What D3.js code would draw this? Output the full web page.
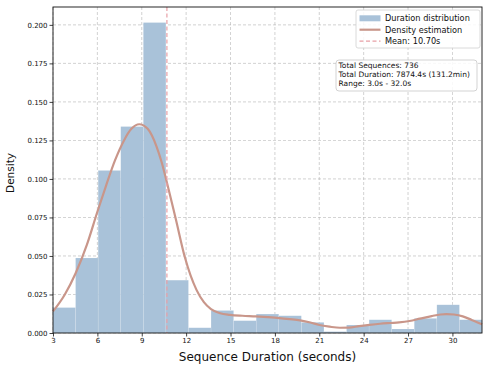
<!DOCTYPE html>
<html>
<head>
<meta charset="utf-8">
<script src="https://cdn.jsdelivr.net/npm/d3@7"></script>
<style>
  body { margin: 0; background: #fff; }
  text { font-family: "DejaVu Sans", sans-serif; fill: #111; }
</style>
</head>
<body>
<div id="chart"></div>
<script>
// histogram: 19 bins between 3 and 32 s (density values)
const binStart = 3, binEnd = 32, binCount = 19;
const binDensity = [0.0165, 0.0487, 0.1055, 0.1340, 0.2015, 0.0343, 0.0034, 0.0146, 0.0080, 0.0123,
                    0.0112, 0.0069, 0.0009, 0.0052, 0.0086, 0.0026, 0.0095, 0.0183, 0.0086];
// kde curve
const kdeX = [3, 3.8, 4.53, 5.3, 6, 6.6, 7.19, 7.8, 8.3, 8.83, 9.4, 10.0, 10.34, 10.64, 11.3, 11.92, 12.7, 13.2, 13.68,
              14.3, 14.96, 15.8, 16.7, 17.5, 18.3, 19.0, 19.7, 20.4, 21.0, 21.7, 22.4, 23.0, 23.7, 24.4, 25.1, 25.8,
              26.4, 27.1, 27.8, 28.6, 29.2, 29.6, 30.1, 30.7, 31.3, 32];
const kdeY = [0.0140, 0.0250, 0.0388, 0.0575, 0.0787, 0.0960, 0.1120, 0.1250, 0.1325, 0.1355, 0.1325, 0.1210, 0.1110,
              0.1000, 0.0740, 0.0490, 0.0280, 0.0200, 0.0155, 0.0128, 0.0118, 0.0112, 0.0108, 0.0103, 0.0097, 0.0090,
              0.0082, 0.0068, 0.0052, 0.0041, 0.0034, 0.0035, 0.0045, 0.0053, 0.0060, 0.0065, 0.0069, 0.0078, 0.0093,
              0.0110, 0.0120, 0.0123, 0.0120, 0.0108, 0.0085, 0.0056];
const meanValue = 10.70;
const xTicks = [3, 6, 9, 12, 15, 18, 21, 24, 27, 30];
const yTicks = [0, 0.025, 0.05, 0.075, 0.1, 0.125, 0.15, 0.175, 0.2];
const legendLabels = ["Duration distribution", "Density estimation", "Mean: 10.70s"];
const infoLines = ["Total Sequences: 736", "Total Duration: 7874.4s (131.2min)", "Range: 3.0s - 32.0s"];

const W = 489, H = 370;
const margin = {top: 7, right: 7, bottom: 37, left: 53};
const width = W - margin.left - margin.right,
      height = H - margin.top - margin.bottom;

const barColor = "#a9c2d9", kdeColor = "#c9968a", meanColor = "#e8a0a6";

const svg = d3.select("#chart").append("svg")
  .attr("width", W).attr("height", H);
const g = svg.append("g")
  .attr("transform", `translate(${margin.left},${margin.top})`);

const x = d3.scaleLinear().domain([3, 32]).range([0, width]);
const y = d3.scaleLinear().domain([0, 0.2116]).range([height, 0]);

// grid
g.append("g").selectAll("line").data(xTicks).join("line")
  .attr("x1", d => x(d)).attr("x2", d => x(d))
  .attr("y1", 0).attr("y2", height)
  .attr("stroke", "#b0b0b0").attr("stroke-width", 0.8)
  .attr("stroke-dasharray", "3,2").attr("opacity", 0.7);
g.append("g").selectAll("line").data(yTicks).join("line")
  .attr("x1", 0).attr("x2", width)
  .attr("y1", d => y(d)).attr("y2", d => y(d))
  .attr("stroke", "#b0b0b0").attr("stroke-width", 0.8)
  .attr("stroke-dasharray", "3,2").attr("opacity", 0.7);

// histogram bars
const bw = (binEnd - binStart) / binCount;
const bins = binDensity.map((v, i) => ({x0: binStart + i * bw, x1: binStart + (i + 1) * bw, v: v}));
g.append("g").selectAll("rect").data(bins).join("rect")
  .attr("x", d => x(d.x0))
  .attr("width", d => x(d.x1) - x(d.x0))
  .attr("y", d => y(d.v))
  .attr("height", d => y(0) - y(d.v))
  .attr("fill", barColor)
  .attr("stroke", "#fff").attr("stroke-opacity", 0.25).attr("stroke-width", 0.5);

// kde
const kde = kdeX.map((v, i) => [v, kdeY[i]]);
g.append("path").datum(kde)
  .attr("d", d3.line().x(d => x(d[0])).y(d => y(d[1])).curve(d3.curveMonotoneX))
  .attr("fill", "none").attr("stroke", kdeColor).attr("stroke-width", 2.2);

// mean line
g.append("line")
  .attr("x1", x(meanValue)).attr("x2", x(meanValue))
  .attr("y1", 0).attr("y2", height)
  .attr("stroke", meanColor).attr("stroke-width", 1.2)
  .attr("stroke-dasharray", "4,2.5");

// axes
const xAxis = g.append("g").attr("transform", `translate(0,${height})`)
  .call(d3.axisBottom(x).tickValues(xTicks).tickFormat(d3.format("d")).tickSize(3.5).tickPadding(2));
const yAxis = g.append("g")
  .call(d3.axisLeft(y).tickValues(yTicks).tickFormat(d3.format(".3f")).tickSize(3.5).tickPadding(2));
[xAxis, yAxis].forEach(a => {
  a.select(".domain").remove();
  a.selectAll("text").style("font-size", "7px").style("font-family", "DejaVu Sans").attr("fill", "#111");
  a.selectAll("line").attr("stroke", "#111").attr("stroke-width", 0.8);
});

// frame
g.append("rect").attr("width", width).attr("height", height)
  .attr("fill", "none").attr("stroke", "#111").attr("stroke-width", 0.9);

// axis labels
svg.append("text")
  .attr("x", margin.left + width / 2).attr("y", 361)
  .attr("text-anchor", "middle").style("font-size", "12px")
  .text("Sequence Duration (seconds)");
svg.append("text")
  .attr("transform", `translate(13.5,${margin.top + height / 2 + 3}) rotate(-90)`)
  .attr("text-anchor", "middle").style("font-size", "10.5px")
  .text("Density");

// legend
const leg = svg.append("g").attr("transform", "translate(356,10)");
leg.append("rect").attr("width", 124).attr("height", 38).attr("rx", 2)
  .attr("fill", "#fff").attr("fill-opacity", 0.85)
  .attr("stroke", "#d0d0d0").attr("stroke-width", 0.8);
legendLabels.forEach((t, i) => {
  const cy = 8.3 + i * 11.4;
  if (i === 0) {
    leg.append("rect").attr("x", 3.5).attr("y", cy - 3).attr("width", 21).attr("height", 6).attr("fill", barColor);
  } else if (i === 1) {
    leg.append("line").attr("x1", 3.5).attr("x2", 24.5).attr("y1", cy).attr("y2", cy)
      .attr("stroke", kdeColor).attr("stroke-width", 2.2);
  } else {
    leg.append("line").attr("x1", 3.5).attr("x2", 24.5).attr("y1", cy).attr("y2", cy)
      .attr("stroke", meanColor).attr("stroke-width", 1.2).attr("stroke-dasharray", "4,2.5");
  }
  leg.append("text").attr("x", 29).attr("y", cy).attr("dy", "0.35em")
    .style("font-size", "8.2px").text(t);
});

// info box
const info = svg.append("g").attr("transform", "translate(336,60)");
info.append("rect").attr("width", 141).attr("height", 31).attr("rx", 3)
  .attr("fill", "#fff").attr("fill-opacity", 0.85)
  .attr("stroke", "#c8c8c8").attr("stroke-width", 0.8);
infoLines.forEach((t, i) => {
  info.append("text").attr("x", 2.5).attr("y", 5.5 + i * 8.8).attr("dy", "0.35em")
    .style("font-size", "7.5px").text(t);
});
</script>
</body>
</html>
